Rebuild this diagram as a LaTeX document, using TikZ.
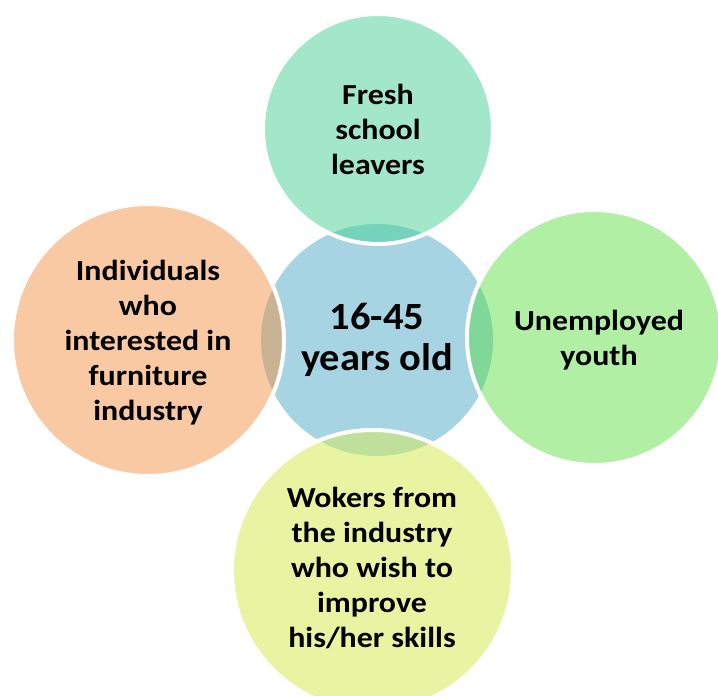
\documentclass[tikz,border=0pt]{standalone}
\usepackage{fontspec}
\setmainfont{Carlito}
\newfontfamily\wideA[FakeStretch=1.1]{Carlito}
\newfontfamily\wideB[FakeStretch=1.05]{Carlito}
\definecolor{cCen}{HTML}{A6D4E2}
\definecolor{cTop}{HTML}{A3E7CA}
\definecolor{cTopL}{HTML}{74D3BA}
\definecolor{cLft}{HTML}{F9C9A3}
\definecolor{cLftL}{HTML}{C9B394}
\definecolor{cRgt}{HTML}{B0EFA4}
\definecolor{cRgtL}{HTML}{80D898}
\definecolor{cBot}{HTML}{E8F4A2}
\definecolor{cBotL}{HTML}{BEE09A}
\begin{document}
\begin{tikzpicture}[x=1pt,y=-1pt,
  bub/.style={circle, inner sep=0pt, outer sep=0pt, draw=none},
  lbl/.style={align=center, font=\wideA\bfseries\fontsize{29}{35}\selectfont, text=black, inner sep=0pt},
  biglbl/.style={align=center, font=\wideB\bfseries\fontsize{38.5}{41}\selectfont, text=black, inner sep=0pt},
  rim/.style={draw=white, line width=4pt}]
\useasboundingbox (0,0) rectangle (718,696);
\clip (0,0) rectangle (718,696);
% centre circle
\node[bub, fill=cCen, minimum size=232pt] (cen) at (377,340) {};
% top
\node[bub, fill=cTop, minimum size=230pt] (top) at (378,129) {};
\begin{scope}\clip (cen.center) circle[radius=116pt];\fill[cTopL] (top.center) circle[radius=115pt];\end{scope}
\draw[rim] (top.center) circle[radius=115pt];
% left
\node[bub, fill=cLft, minimum size=272pt] (lft) at (148,340) {};
\begin{scope}\clip (cen.center) circle[radius=116pt];\fill[cLftL] (lft.center) circle[radius=136pt];\end{scope}
\draw[rim] (lft.center) circle[radius=136pt];
% right
\node[bub, fill=cRgt, minimum size=255pt] (rgt) at (594.5,337.5) {};
\begin{scope}\clip (cen.center) circle[radius=116pt];\fill[cRgtL] (rgt.center) circle[radius=127.5pt];\end{scope}
\draw[rim] (rgt.center) circle[radius=127.5pt];
% bottom
\node[bub, fill=cBot, minimum size=281pt] (bot) at (372.5,570.5) {};
\begin{scope}\clip (cen.center) circle[radius=116pt];\fill[cBotL] (bot.center) circle[radius=140.5pt];\end{scope}
\draw[rim] (bot.center) circle[radius=140.5pt];
% labels
\node[biglbl] (tcen) at (377,340) {16-45\\years old};
\node[lbl] (ttop) at (378,129) {Fresh\\school\\leavers};
\node[lbl] (tlft) at (148,343) {Individuals\\who\\interested in\\furniture\\industry};
\node[lbl] (trgt) at (599,340) {Unemployed\\youth};
\node[lbl] (tbot) at (372,568) {Wokers from\\the industry\\who wish to\\improve\\his/her skills};
\end{tikzpicture}
\end{document}
